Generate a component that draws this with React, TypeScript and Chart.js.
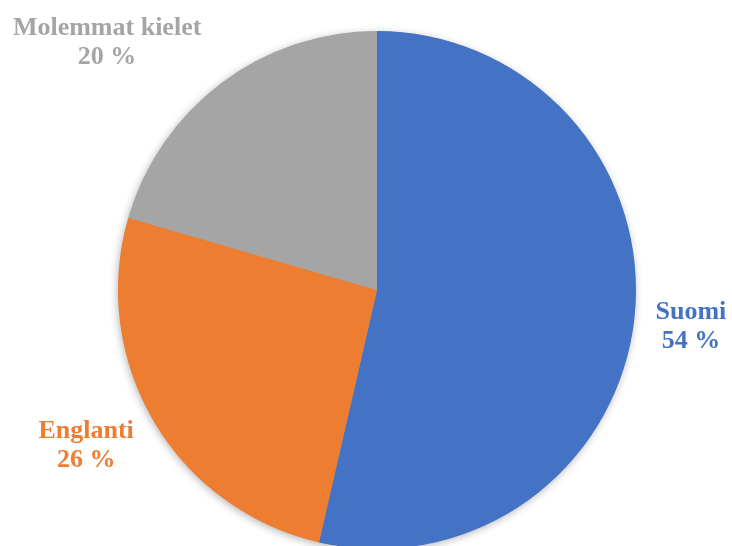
import React, { useEffect, useRef } from "react";
import { Chart, registerables } from "chart.js";

Chart.register(...registerables);

const categories = ["Suomi", "Englanti", "Molemmat kielet"];
const values = [53.6, 25.9, 20.5];
const valueLabels = ["54 %", "26 %", "20 %"];
const colors = ["#4472C4", "#ED7D31", "#A5A5A5"];
// label anchor (first-line baseline) relative to pie centre, in radius units
const labelAnchors = [
  [1.212, 0.112],
  [-1.123, 0.573],
  [-1.042, -0.985],
];

const shadowPlugin = {
  id: "pieShadow",
  beforeDatasetsDraw(chart: any) {
    const meta = chart.getDatasetMeta(0);
    const arc = meta.data[0];
    if (!arc) return;
    const { x, y, outerRadius } = arc.getProps(["x", "y", "outerRadius"], true);
    const ctx = chart.ctx;
    ctx.save();
    ctx.shadowColor = "rgba(0,0,0,0.3)";
    ctx.shadowBlur = 9;
    ctx.shadowOffsetX = -1;
    ctx.shadowOffsetY = 2;
    ctx.fillStyle = "#A5A5A5";
    ctx.beginPath();
    ctx.arc(x, y, outerRadius - 0.5, 0, Math.PI * 2);
    ctx.fill();
    ctx.restore();
  },
};

const labelPlugin = {
  id: "pieLabels",
  afterDatasetsDraw(chart: any) {
    const meta = chart.getDatasetMeta(0);
    const ctx = chart.ctx;
    ctx.save();
    ctx.font = "bold 26px 'Liberation Serif', 'Times New Roman', serif";
    ctx.textAlign = "center";
    ctx.textBaseline = "alphabetic";
    meta.data.forEach((arc: any, i: number) => {
      const { x, y, outerRadius } = arc.getProps(["x", "y", "outerRadius"], true);
      const lx = x + labelAnchors[i][0] * outerRadius;
      const ly = y + labelAnchors[i][1] * outerRadius;
      ctx.fillStyle = colors[i];
      ctx.fillText(categories[i], lx, ly);
      ctx.fillText(valueLabels[i], lx, ly + 29);
    });
    ctx.restore();
  },
};

export default function App() {
  const ref = useRef<HTMLCanvasElement>(null);
  useEffect(() => {
    if (!ref.current) return;
    const chart = new Chart(ref.current, {
      type: "pie",
      data: {
        labels: categories,
        datasets: [
          {
            data: values,
            backgroundColor: colors,
            borderWidth: 0,
          },
        ],
      },
      options: {
        responsive: false,
        animation: false,
        layout: { padding: { left: 118, right: 96, top: 31, bottom: 11 } },
        plugins: {
          legend: { display: false },
          tooltip: { enabled: false },
          title: { display: false },
        },
      },
      plugins: [shadowPlugin, labelPlugin],
    });
    return () => chart.destroy();
  }, []);
  return (
    <div
      style={{
        position: "absolute",
        left: 0,
        top: 0,
        width: 732,
        height: 546,
        overflow: "hidden",
        background: "#fff",
      }}
    >
      <canvas ref={ref} width={732} height={560} style={{ width: 732, height: 560 }} />
    </div>
  );
}
